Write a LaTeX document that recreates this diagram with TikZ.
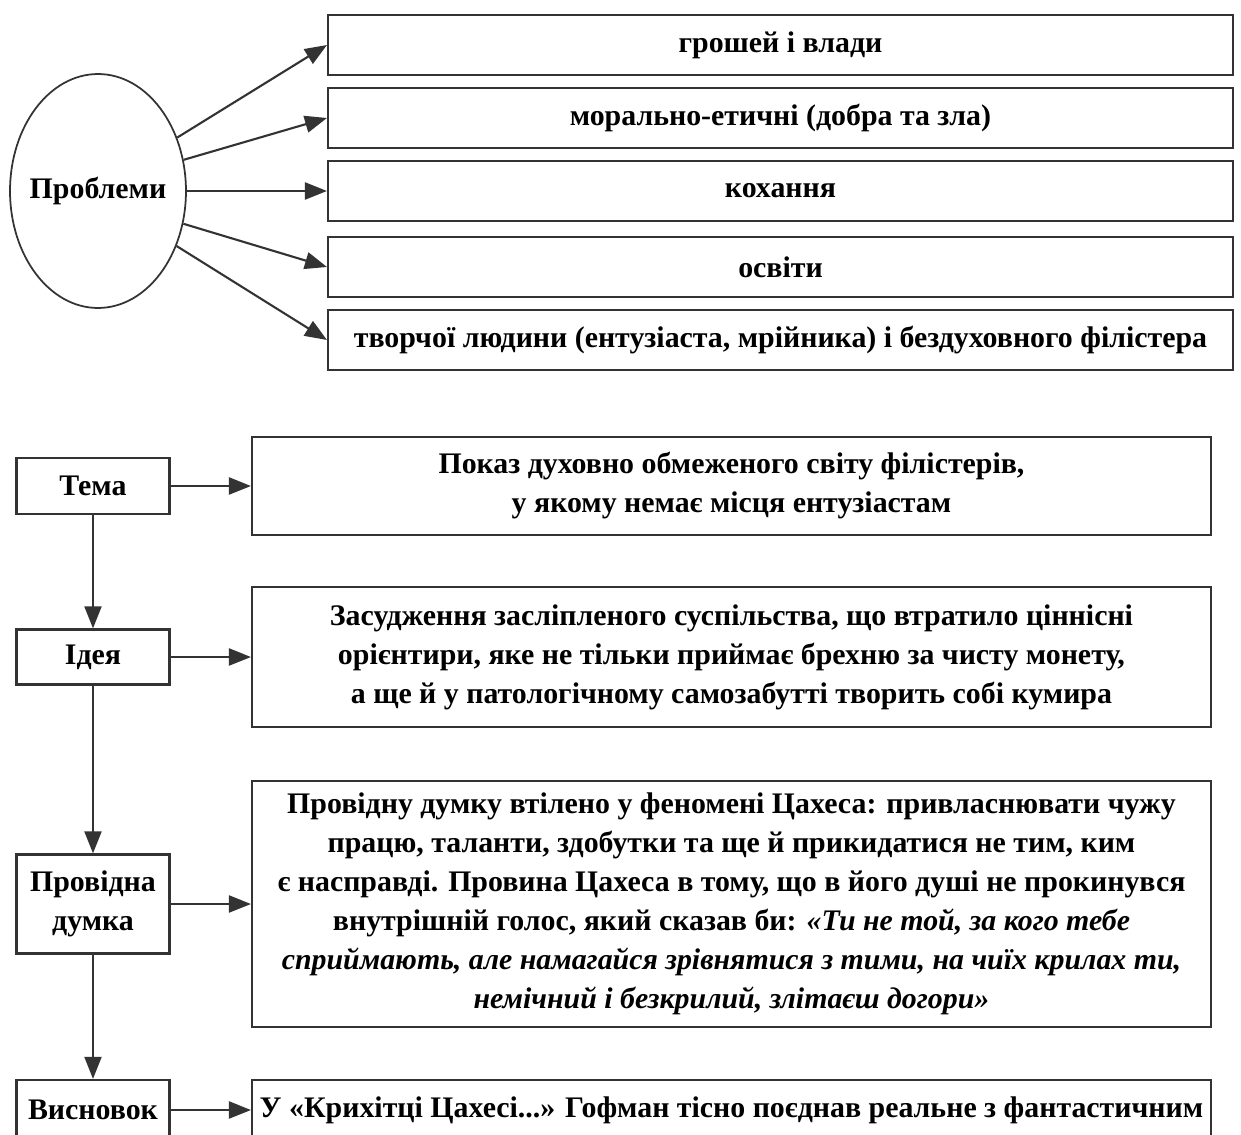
\documentclass[tikz,border=0pt]{standalone}
\usepackage{fontspec}
\setmainfont{Liberation Serif}
\usetikzlibrary{arrows.meta,shapes.geometric}
\begin{document}
\begin{tikzpicture}[x=0.02cm,y=-0.02cm,
    every node/.style={font=\fontsize{17}{22.2}\selectfont\bfseries},
    topbox/.style={draw=black!80,line width=1.3pt,minimum width=18.1cm,minimum height=1.2cm,inner sep=0pt},
    namebox/.style={draw=black!80,line width=1.3pt,minimum width=3.06cm,align=center,inner sep=0pt},
    textbox/.style={draw=black!80,line width=1.3pt,minimum width=19.18cm,align=center,inner sep=0pt},
    link/.style={-{Triangle[length=0.44cm,width=0.34cm]},line width=1.2pt,draw=black!80}]
  \useasboundingbox (0,0) rectangle (1241,1135);
  \draw
    (98,191) node[ellipse,draw=black!80,line width=1pt,minimum width=3.52cm,minimum height=4.68cm,inner sep=0pt,label=center:{Проблеми}] (prob){}
    (780.5,45) node[topbox] (p1){грошей і влади}
    (780.5,118) node[topbox] (p2){морально-етичні (добра та зла)}
    (780.5,191) node[topbox] (p3){кохання}
    (780.5,267) node[topbox] (p4){освіти}
    (780.5,340) node[topbox] (p5){творчої людини (ентузіаста, мрійника) і бездуховного філістера};
  \draw
    (93,486) node[namebox,minimum height=1.12cm] (tema){Тема}
    (93,657) node[namebox,minimum height=1.1cm] (ideia){Ідея}
    (93,904) node[namebox,minimum height=1.98cm] (dumka){Провідна\\думка}
    (93,1110) node[namebox,minimum height=1.2cm] (vysn){Висновок}
    (731.5,486) node[textbox,minimum height=1.96cm] (tematxt){Показ духовно обмеженого світу філістерів,\\у якому немає місця ентузіастам}
    (731.5,657) node[textbox,minimum height=2.8cm] (ideiatxt){Засудження засліпленого суспільства, що втратило ціннісні\\орієнтири, яке не тільки приймає брехню за чисту монету,\\а ще й у патологічному самозабутті творить собі кумира}
    (731.5,904) node[textbox,minimum height=4.92cm] (dumkatxt){Провідну думку втілено у феномені Цахеса: привласнювати чужу\\працю, таланти, здобутки та ще й прикидатися не тим, ким\\є насправді. Провина Цахеса в тому, що в його душі не прокинувся\\внутрішній голос, який сказав би: \textit{«Ти не той, за кого тебе}\\\textit{сприймають, але намагайся зрівнятися з тими, на чиїх крилах ти,}\\\textit{немічний і безкрилий, злітаєш догори»}}
    (731.5,1110) node[textbox,minimum height=1.2cm] (vysntxt){У «Крихітці Цахесі...» Гофман тісно поєднав реальне з фантастичним};
  \begin{scope}[link]
    \draw (prob.34) to (p1.west);
    \draw (prob.20) to (p2.west);
    \draw (prob.0) to (p3.west);
    \draw (prob.-21) to (p4.west);
    \draw (prob.-35) to (p5.west);
    \draw (tema) to (tematxt);
    \draw (ideia) to (ideiatxt);
    \draw (dumka) to (dumkatxt);
    \draw (vysn) to (vysntxt);
    \draw (tema) to (ideia);
    \draw (ideia) to (dumka);
    \draw (dumka) to (vysn);
  \end{scope}
\end{tikzpicture}
\end{document}
